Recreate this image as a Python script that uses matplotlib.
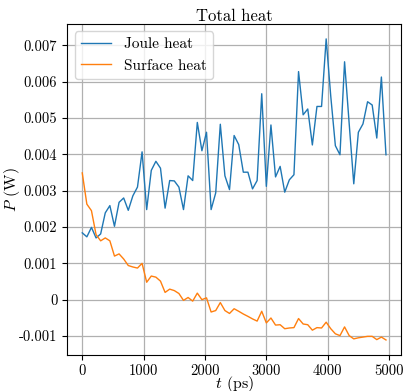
import numpy as np
import matplotlib
matplotlib.use("Agg")
import matplotlib.pyplot as plt
from matplotlib.ticker import FuncFormatter

plt.rcParams['font.family'] = 'serif'
plt.rcParams['font.serif'] = ['cmr10']
plt.rcParams['mathtext.fontset'] = 'cm'
plt.rcParams['axes.formatter.use_mathtext'] = True

t_ps = np.arange(0, 5000, 75)  # 67 samples, 0 .. 4950 ps

joule_mW = [1.84, 1.73, 1.99, 1.70, 1.81, 2.39, 2.59, 2.02, 2.68, 2.80,
            2.46, 2.86, 3.10, 4.07, 2.48, 3.56, 3.81, 3.62, 2.52, 3.28,
            3.27, 3.10, 2.48, 3.41, 3.28, 4.88, 4.10, 4.61, 2.48, 2.94,
            4.83, 3.41, 3.03, 4.52, 4.27, 3.51, 3.51, 3.05, 3.28, 5.67,
            3.12, 4.81, 3.38, 3.67, 2.96, 3.30, 3.44, 6.28, 5.09, 5.25,
            4.26, 5.32, 5.32, 7.18, 5.60, 4.24, 3.99, 6.55, 4.85, 3.19,
            4.61, 4.84, 5.45, 5.36, 4.45, 6.13, 3.99]

surface_mW = [3.49, 2.63, 2.45, 1.79, 1.62, 1.70, 1.62, 1.20, 1.26, 1.12,
              0.94, 0.90, 0.87, 1.00, 0.48, 0.65, 0.62, 0.51, 0.20, 0.29,
              0.25, 0.17, -0.02, 0.06, -0.04, 0.18, 0.00, 0.05, -0.34, -0.30,
              -0.08, -0.30, -0.38, -0.25, -0.32, -0.395, -0.46, -0.53, -0.59, -0.32,
              -0.64, -0.505, -0.70, -0.69, -0.80, -0.78, -0.77, -0.52, -0.67, -0.69,
              -0.84, -0.77, -0.78, -0.62, -0.80, -0.94, -0.99, -0.75, -0.99, -1.08,
              -1.05, -1.03, -1.01, -1.01, -1.10, -1.03, -1.11]

joule = np.array(joule_mW) * 1e-3
surface = np.array(surface_mW) * 1e-3

fig = plt.figure(figsize=(4.04, 3.91), dpi=100)
ax = fig.add_axes([0.166, 0.092, 0.827, 0.847])
ax.plot(t_ps, joule, color='#1f77b4', lw=1.0, label='Joule heat')
ax.plot(t_ps, surface, color='#ff7f0e', lw=1.0, label='Surface heat')

ax.set_xticks([0, 1000, 2000, 3000, 4000, 5000])
ax.set_yticks([-0.001, 0, 0.001, 0.002, 0.003, 0.004, 0.005, 0.006, 0.007])
ax.yaxis.set_major_formatter(FuncFormatter(lambda v, p: '{:g}'.format(round(v, 6)) if abs(v) > 1e-12 else '0'))
ax.xaxis.set_major_formatter(FuncFormatter(lambda v, p: '{:g}'.format(v)))
ax.tick_params(labelsize=10.5)
ax.grid(True, color='#b0b0b0', lw=0.9)

ax.set_title('Total heat', fontsize=12, pad=2)
ax.set_xlabel('$t$ (ps)', fontsize=11.5, labelpad=-3)
ax.set_ylabel('$P$ (W)', fontsize=11.5, labelpad=-2)
ax.legend(loc='upper left', fontsize=11)

fig.savefig('out.png', dpi=100)
